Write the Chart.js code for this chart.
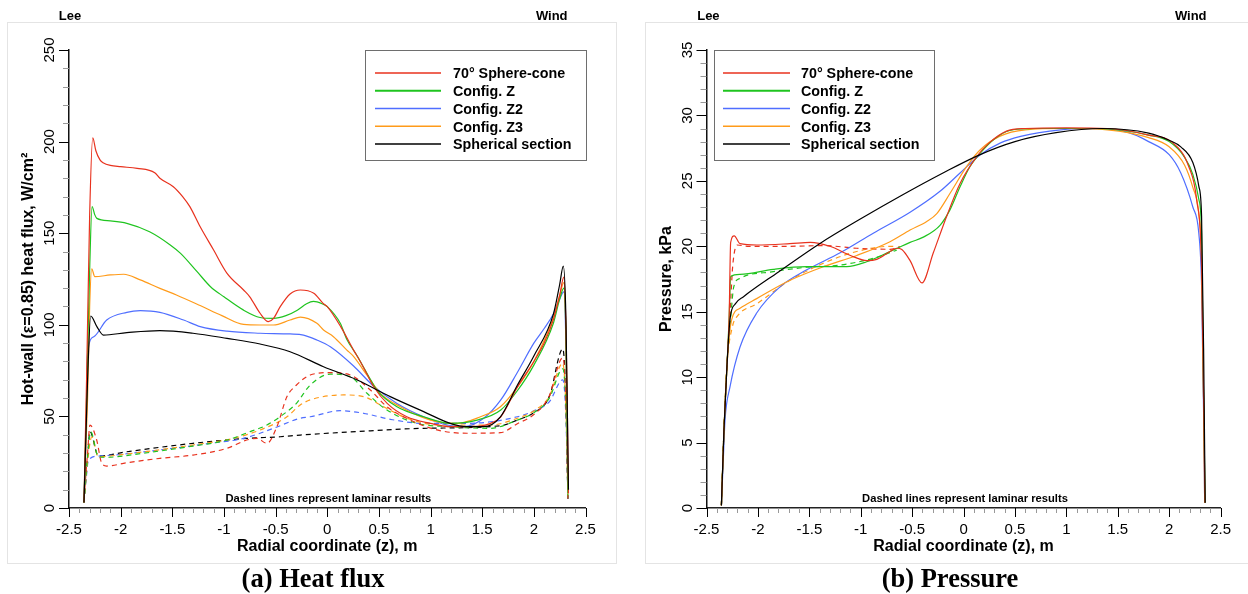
<!DOCTYPE html>
<html><head><meta charset="utf-8">
<script src="https://cdn.jsdelivr.net/npm/chart.js@4.4.1/dist/chart.umd.min.js"></script>
<style>
body{margin:0;background:#fff;width:1248px;height:594px;overflow:hidden;position:relative}
canvas{position:absolute;top:0}
.frame{position:absolute;border:1px solid #e4e4e4}
</style></head><body>
<div class="frame" style="left:7px;top:22px;width:608px;height:540px"></div>
<div class="frame" style="left:645px;top:22px;width:610px;height:540px"></div>
<canvas id="c1" width="624" height="594" style="left:0;width:624px;height:594px"></canvas>
<canvas id="c2" width="624" height="594" style="left:624px;width:624px;height:594px"></canvas>
<script>
// ---------- labels ----------
const seriesNames = ['70° Sphere-cone','Config. Z','Config. Z2','Config. Z3','Spherical section'];
const seriesColors = ['#e8321e','#1fc41f','#4f6eff','#ff9b1a','#000000'];
const xTickLabels = ['-2.5','-2','-1.5','-1','-0.5','0','0.5','1','1.5','2','2.5'];
const hfTickLabels = ['0','50','100','150','200','250'];
const pTickLabels = ['0','5','10','15','20','25','30','35'];

// ---------- (a) heat flux, turbulent (solid) ----------
const hfConeZ = [-2.355,-2.33,-2.30,-2.27,-2.24,-2.20,-2.17,-2.10,-2.0,-1.84,-1.67,-1.62,-1.49,-1.40,-1.33,-1.23,-1.10,-0.97,-0.81,-0.75,-0.65,-0.57,-0.52,-0.455,-0.36,-0.26,-0.13,-0.04,0.0,0.13,0.255,0.32,0.385,0.45,0.58,0.77,1.0,1.19,1.39,1.58,1.68,1.84,2.0,2.1,2.19,2.25,2.29,2.31,2.325,2.335];
const hfConeQ = [3,70,160,202,195,190,188.5,187,186.3,185.4,183,180,175.4,170,164.5,153.5,140.8,128.1,119,115.3,106.3,101.7,103.5,109.9,116.8,119,117.2,111.7,109.9,99,86.2,80,73,66.2,57.1,49.8,46.2,44.4,44.4,46.2,49.8,66,80,90,103,116,126,100,50,8];
const hfZZ = [-2.355,-2.33,-2.30,-2.277,-2.25,-2.23,-2.10,-1.94,-1.72,-1.52,-1.42,-1.26,-1.13,-1.0,-0.81,-0.65,-0.52,-0.40,-0.29,-0.2,-0.133,-0.05,0.0,0.126,0.19,0.29,0.36,0.42,0.48,0.675,0.933,1.19,1.45,1.68,1.84,2.0,2.19,2.25,2.29,2.31,2.33];
const hfZQ = [3,60,130,164.5,160,158.1,156.7,155.4,150.8,143.6,139,129,120.8,115.3,108,104,103.5,105,108,111.5,112.8,111.5,109.9,100.8,92,83,76,70,64.4,55.3,49.8,46.2,48,53.5,64,78,101,114,120,95,8];
const hfZ2Z = [-2.355,-2.33,-2.32,-2.26,-2.135,-1.94,-1.81,-1.62,-1.39,-1.23,-0.97,-0.65,-0.36,-0.23,-0.1,0.03,0.255,0.449,0.675,0.933,1.16,1.32,1.515,1.68,1.84,2.0,2.1,2.19,2.25,2.29,2.31,2.33];
const hfZ2Q = [3,50,84.4,93.5,102.6,106.8,107.7,106.8,102.6,99,96.5,95.4,95,94.4,91.7,88,77.5,66.5,57.1,49.8,45.3,44.4,49,59,74,90,98,106,114,118,90,8];
const hfZ3Z = [-2.355,-2.32,-2.30,-2.28,-2.25,-2.10,-1.97,-1.81,-1.62,-1.46,-1.23,-1.02,-0.81,-0.65,-0.52,-0.36,-0.26,-0.1,-0.036,0.06,0.19,0.25,0.385,0.514,0.707,1.0,1.257,1.483,1.676,1.84,2.0,2.19,2.25,2.29,2.31,2.33];
const hfZ3Q = [3,60,110,130.5,126.3,127.2,127.6,124.5,119.9,116.3,110.5,105,100.2,99.9,99.9,102.6,104.2,100.8,97.2,93.5,86.2,83,72.5,62.6,55.3,48,46.2,49.8,55.3,66,80,104,116,123,95,8];
const hfSphZ = [-2.355,-2.32,-2.29,-2.23,-2.167,-1.94,-1.62,-1.3,-0.97,-0.65,-0.36,-0.036,0.29,0.61,0.933,1.19,1.35,1.515,1.676,1.84,2.0,2.19,2.25,2.285,2.31,2.325,2.335];
const hfSphQ = [3,70,104.8,99,94.4,95.7,96.8,95.4,92.6,89.5,85.3,77.1,69.9,60.8,52.6,46.2,44.4,44.4,49.8,67,83,106,122,132,105,50,10];

// ---------- (a) heat flux, laminar (dashed) ----------
const hfConeLamZ = [-2.355,-2.32,-2.297,-2.232,-2.183,-2.135,-1.94,-1.62,-1.3,-0.97,-0.78,-0.68,-0.584,-0.487,-0.39,-0.3,-0.165,0.03,0.223,0.417,0.578,0.804,1.063,1.353,1.676,1.84,2.0,2.146,2.28,2.31,2.33];
const hfConeLamQ = [5,30,45.3,37.1,24.4,22.9,24.7,27.1,28.9,32.6,37.1,38,35.3,44.4,60.8,67,72.6,73.9,72.6,64.4,55.3,48,42.6,40.8,41.1,46,51,60.8,82,60,5];
const hfZLamZ = [-2.355,-2.32,-2.29,-2.216,-2.135,-1.78,-1.3,-0.97,-0.746,-0.584,-0.39,-0.3,-0.165,0.029,0.223,0.385,0.578,0.869,1.19,1.58,1.84,2.0,2.15,2.28,2.31,2.33];
const hfZLamQ = [3,28,41.7,28,27.7,29.9,33.8,37.1,41.7,45.3,52.6,57,67.1,73.1,71.7,62.6,53.5,46.2,44.4,43.5,48,52,60,76,55,5];
const hfZ2LamZ = [-2.355,-2.33,-2.313,-2.2,-1.62,-1.134,-0.811,-0.52,-0.262,-0.165,0.126,0.352,0.61,0.933,1.353,1.84,2.0,2.15,2.28,2.31,2.33];
const hfZ2LamQ = [3,18,26.2,28.4,31.7,35.3,38,43.5,49,49.8,53.1,51.7,48.4,46.2,46.2,49.8,53,58,70,50,5];
const hfZ3LamZ = [-2.355,-2.32,-2.28,-2.216,-1.94,-1.3,-0.908,-0.649,-0.39,-0.262,-0.165,0.158,0.352,0.546,0.772,1.095,1.58,1.84,2.0,2.15,2.28,2.31,2.33];
const hfZ3LamQ = [3,25,38.9,28,29.5,34.4,38,42.6,49.8,56.2,59,61.7,60.8,55.3,49,45.3,45.3,49,53,61,79,55,5];
const hfSphLamZ = [-2.355,-2.32,-2.297,-2.216,-1.94,-1.3,-0.778,-0.455,-0.262,0.288,0.933,1.676,1.84,2.0,2.15,2.28,2.31,2.33];
const hfSphLamQ = [3,28,41.7,28.4,30.7,35.3,38,38.9,39.8,41.7,43.5,44.9,48,52,60.8,86.8,60,5];

// ---------- (b) pressure, turbulent (solid) ----------
const pConeZ = [-2.355,-2.33,-2.30,-2.28,-2.265,-2.23,-2.174,-2.01,-1.69,-1.49,-1.3,-1.1,-0.94,-0.844,-0.715,-0.65,-0.6,-0.52,-0.404,-0.294,-0.164,-0.034,0.128,0.25,0.418,0.6,1.0,1.4,1.8,2.035,2.19,2.268,2.315,2.335,2.348];
const pConeP = [0.2,6,11,14.5,20.3,20.8,20.2,20.1,20.2,20.3,20.0,19.3,18.9,19.0,19.6,19.85,19.75,18.9,17.2,19.5,22.3,24.8,26.85,27.9,28.8,29.0,29.05,29.0,28.5,27.9,26.1,23.5,18.4,8,0.4];
const pZZ = [-2.355,-2.33,-2.30,-2.28,-2.265,-2.174,-1.85,-1.525,-1.136,-0.942,-0.715,-0.52,-0.391,-0.229,-0.131,-0.034,0.063,0.16,0.3,0.45,0.7,1.3,1.8,2.0,2.15,2.23,2.288,2.315,2.335,2.35];
const pZP = [0.2,6,11,14.5,17.7,17.86,18.24,18.44,18.44,18.82,19.6,20.3,20.7,21.6,22.8,24.55,26.1,27.1,28.2,28.85,29.0,29.0,28.5,28.0,26.8,25.5,23.6,21,8,0.4];
const pZ2Z = [-2.355,-2.335,-2.32,-2.271,-2.174,-2.012,-1.785,-1.525,-1.2,-0.878,-0.52,-0.229,-0.034,0.16,0.36,0.555,0.944,1.3,1.6,1.8,2.0,2.113,2.23,2.288,2.315,2.335,2.345];
const pZ2P = [0.2,4,6.7,9.27,12.3,14.9,16.9,18.2,19.5,21.0,22.6,24.2,25.6,26.98,27.9,28.4,28.9,29.0,28.7,28.0,27.0,25.6,23.0,21.0,17,7,0.4];
const pZ3Z = [-2.355,-2.33,-2.30,-2.255,-2.174,-2.012,-1.688,-1.364,-1.039,-0.715,-0.52,-0.358,-0.26,-0.131,0.031,0.16,0.35,0.6,1.0,1.4,1.8,2.0,2.15,2.23,2.288,2.315,2.335,2.345];
const pZ3P = [0.2,6,11,14.4,15.26,16.0,17.4,18.44,19.3,20.35,21.24,21.9,22.5,24.05,26.1,27.36,28.4,28.9,29.0,28.9,28.3,27.6,26.2,24.5,22.5,19,8,0.4];
const pSphZ = [-2.355,-2.33,-2.30,-2.27,-2.22,-2.14,-1.8,-1.4,-1.0,-0.6,-0.2,0.15,0.5,0.9,1.35,1.8,2.0,2.113,2.23,2.288,2.315,2.335,2.35];
const pSphP = [0.2,6,11,14.5,15.6,16.15,18.04,20.2,22.1,23.9,25.6,26.97,28.0,28.68,29.0,28.65,28.1,27.6,26.4,24.6,22.3,12,0.4];

// ---------- (b) pressure, laminar (dashed) ----------
const pConeLamZ = [-2.355,-2.33,-2.30,-2.27,-2.245,-2.2,-2.1,-1.7,-1.364,-1.039,-0.715,-0.62];
const pConeLamP = [0.2,6,11,15,18.5,20.1,20.0,20.0,20.05,19.85,19.77,19.97];
const pZLamZ = [-2.355,-2.33,-2.30,-2.26,-2.235,-2.174,-1.85,-1.525,-1.2,-0.878,-0.65];
const pZLamP = [0.2,6,11,15,16.9,17.55,18.06,18.4,18.57,19.08,19.7];
const pZ3LamZ = [-2.355,-2.33,-2.30,-2.25,-2.206,-2.012,-1.688,-1.364,-1.039,-0.715,-0.65];
const pZ3LamP = [0.2,6,11,13.8,14.6,15.6,17.4,18.7,19.6,20.0,20.0];

// ---------- helpers ----------
const pts = (xs, ys) => xs.map((x, i) => ({x: x, y: ys[i]}));
function ds(xs, ys, ci, dashed) {
  return {data: pts(xs, ys), borderColor: seriesColors[ci], borderWidth: 1.2,
    borderDash: dashed ? [5, 4] : [], pointRadius: 0, fill: false,
    cubicInterpolationMode: 'monotone'};
}
function txt(ctx, s, x, y, font, align, rot, sx) {
  ctx.save(); ctx.translate(x, y); if (rot) ctx.rotate(rot); if (sx) ctx.scale(sx, 1);
  ctx.font = font; ctx.textAlign = align || 'center'; ctx.textBaseline = 'alphabetic';
  ctx.fillStyle = '#000'; ctx.fillText(s, 0, 0); ctx.restore();
}
const near = (v, m) => Math.abs(v / m - Math.round(v / m)) < 1e-6;

function deco(cfg) {
  return { id: 'deco' + cfg.id, afterDraw(chart) {
    const ctx = chart.ctx, xs = chart.scales.x, ys = chart.scales.y, a = chart.chartArea;
    ctx.save();
    // x ticks
    let li = 0;
    xs.ticks.forEach(t => {
      const major = near(t.value, 0.5);
      const px = Math.round(xs.getPixelForValue(t.value)) + 0.5;
      ctx.strokeStyle = major ? '#000' : '#999'; ctx.lineWidth = 1;
      ctx.beginPath(); ctx.moveTo(px, a.bottom); ctx.lineTo(px, a.bottom + (major ? 9 : 5)); ctx.stroke();
      if (major) { txt(ctx, xTickLabels[li++], xs.getPixelForValue(t.value), 533.5, '15px "Liberation Sans"', 'center'); }
    });
    // y ticks
    let yi = 0;
    ys.ticks.forEach(t => {
      const major = near(t.value, cfg.yMajor);
      const py = Math.round(ys.getPixelForValue(t.value)) + 0.5;
      ctx.strokeStyle = major ? '#000' : '#999'; ctx.lineWidth = 1;
      ctx.beginPath(); ctx.moveTo(a.left, py); ctx.lineTo(a.left - (major ? 10 : 6), py); ctx.stroke();
      if (major) { txt(ctx, cfg.yLabels[yi++], cfg.yLabX, ys.getPixelForValue(t.value), '15px "Liberation Sans"', 'center', -Math.PI / 2); }
    });
    // axis titles
    txt(ctx, 'Radial coordinate (z), m', (a.left + a.right) / 2, 551, 'bold 16px "Liberation Sans"', 'center');
    txt(ctx, cfg.yTitle, cfg.yTitleX, (a.top + a.bottom) / 2, cfg.yTitleFont, 'center', -Math.PI / 2);
    // Lee / Wind
    txt(ctx, 'Lee', cfg.leeX, 20, 'bold 13px "Liberation Sans"', 'center');
    txt(ctx, 'Wind', cfg.windX, 20, 'bold 13px "Liberation Sans"', 'center');
    // note
    txt(ctx, 'Dashed lines represent laminar results', cfg.noteX, 502, 'bold 11.2px "Liberation Sans"', 'center');
    // caption
    txt(ctx, cfg.caption, cfg.capX, 587, 'bold 26.5px "Liberation Serif"', 'center');
    // legend
    const L = cfg.leg;
    ctx.fillStyle = '#fff'; ctx.fillRect(L.x0, 50, L.x1 - L.x0, 110);
    ctx.strokeStyle = '#6e6e6e'; ctx.lineWidth = 1;
    ctx.strokeRect(Math.round(L.x0) + 0.5, 50.5, Math.round(L.x1 - L.x0), 110);
    seriesNames.forEach((n, i) => {
      const yy = 73 + i * 17.75;
      ctx.strokeStyle = seriesColors[i]; ctx.lineWidth = i === 1 ? 1.8 : 1.3;
      ctx.beginPath(); ctx.moveTo(L.l0, yy); ctx.lineTo(L.l1, yy); ctx.stroke();
      txt(ctx, n, L.t, yy + 5.3, 'bold 14.3px "Liberation Sans"', 'left');
    });
    ctx.restore();
  }};
}

function makeChart(id, datasets, yMax, yStep, yAxisW, padRight, cfg) {
  return new Chart(document.getElementById(id), {
    type: 'line',
    data: {datasets: datasets},
    options: {
      animation: false, responsive: false, events: [],
      plugins: {legend: {display: false}, tooltip: {enabled: false}},
      layout: {padding: {left: 0, right: padRight, top: 50, bottom: 0}},
      scales: {
        x: {type: 'linear', min: -2.5, max: 2.5,
            ticks: {display: false, stepSize: 0.1},
            grid: {display: false}, border: {display: true, color: '#222', width: 1.5},
            afterFit(s) { s.height = 86; }},
        y: {type: 'linear', min: 0, max: yMax,
            ticks: {display: false, stepSize: yStep},
            grid: {display: false}, border: {display: true, color: '#111', width: 1.5},
            afterFit(s) { s.width = yAxisW; }}
      }
    },
    plugins: [deco(cfg)]
  });
}

const hfSets = [
  ds(hfSphZ, hfSphQ, 4), ds(hfConeZ, hfConeQ, 0), ds(hfZZ, hfZQ, 1), ds(hfZ3Z, hfZ3Q, 3), ds(hfZ2Z, hfZ2Q, 2),
  ds(hfConeLamZ, hfConeLamQ, 0, true), ds(hfZLamZ, hfZLamQ, 1, true), ds(hfZ3LamZ, hfZ3LamQ, 3, true),
  ds(hfZ2LamZ, hfZ2LamQ, 2, true), ds(hfSphLamZ, hfSphLamQ, 4, true)
];
const pSets = [
  ds(pSphZ, pSphP, 4), ds(pConeZ, pConeP, 0), ds(pZZ, pZP, 1), ds(pZ3Z, pZ3P, 3), ds(pZ2Z, pZ2P, 2),
  ds(pConeLamZ, pConeLamP, 0, true), ds(pZLamZ, pZLamP, 1, true), ds(pZ3LamZ, pZ3LamP, 3, true)
];

makeChart('c1', hfSets, 250, 10, 69, 38.5, {
  id: 1, yMajor: 50, yLabels: hfTickLabels, yLabX: 54.1,
  yTitle: 'Hot-wall (\u03b5=0.85) heat flux, W/cm\u00b2', yTitleX: 33, yTitleFont: 'bold 16px "Liberation Sans"',
  leeX: 70, windX: 551.7, noteX: 328.4, caption: '(a) Heat flux', capX: 313,
  leg: {x0: 364.5, x1: 585.5, l0: 375, l1: 441, t: 453}
});
makeChart('c2', pSets, 35, 1, 82.5, 27.4, {
  id: 2, yMajor: 5, yLabels: pTickLabels, yLabX: 68.4,
  yTitle: 'Pressure, kPa', yTitleX: 46.5, yTitleFont: 'bold 16px "Liberation Sans"',
  leeX: 84.4, windX: 566.7, noteX: 341, caption: '(b) Pressure', capX: 326,
  leg: {x0: 89.7, x1: 309.5, l0: 99, l1: 166, t: 177}
});
</script>
</body></html>
